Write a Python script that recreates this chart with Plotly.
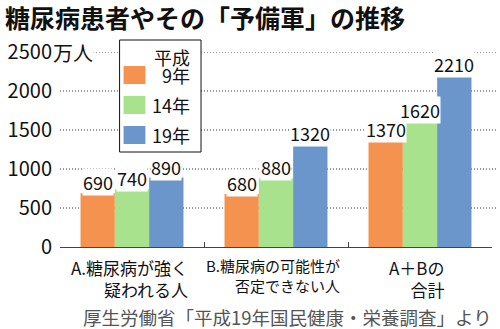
import plotly.graph_objects as go

# Survey categories and values (unit: 10,000 people)
categories = ["A.糖尿病が強く<br>疑われる人", "B.糖尿病の可能性が<br>否定できない人", "A＋Bの<br>合計"]
category_font_sizes = [17, 15, 17]
series_names = ["9年", "14年", "19年"]
heisei9 = [690, 680, 1370]
heisei14 = [740, 880, 1620]
heisei19 = [890, 1320, 2210]
series_values = [heisei9, heisei14, heisei19]
series_colors = ["#F5924F", "#A8E28C", "#6A96CC"]
y_ticks = [0, 500, 1000, 1500, 2000, 2500]
y_unit = "万人"
title_text = "糖尿病患者やその「予備軍」の推移"
legend_title = "平成"
source_text = "厚生労働省「平成19年国民健康・栄養調査」より"

FONT = "Noto Sans CJK JP"
W, H = 500, 329
ML, MR, MT, MB = 57, 8, 52, 82
BARGAP = 0.285


def px(x):
    return (x - ML) / (W - ML - MR)


def py(y):
    return (H - MB - y) / (H - MT - MB)


fig = go.Figure()
xpos = list(range(len(categories)))
for name, vals, col in zip(series_names, series_values, series_colors):
    fig.add_trace(go.Bar(x=xpos, y=vals, name=name, marker=dict(color=col, line=dict(width=0)),
                         showlegend=False))

annotations = []
shapes = []

# dotted horizontal guide lines behind the bars
for t in y_ticks[1:]:
    shapes.append(dict(type="line", xref="paper", yref="y", x0=0, x1=px(497), y0=t, y1=t,
                       line=dict(color="#333", width=1, dash="1px,2px"), layer="below"))

# value labels on top of each bar
n = len(series_values)
bw = (1 - BARGAP) / n
for j, vals in enumerate(series_values):
    for i, v in enumerate(vals):
        annotations.append(dict(x=i + (j - (n - 1) / 2) * bw, y=v, xref="x", yref="y",
                                text=str(v), showarrow=False, yanchor="bottom", yshift=-3,
                                bgcolor="white", borderpad=0,
                                font=dict(family=FONT, size=18, color="#111")))

# category labels under the axis
for i, (c, fs) in enumerate(zip(categories, category_font_sizes)):
    annotations.append(dict(x=i, y=py(254), xref="x", yref="paper", text=c, showarrow=False,
                            xanchor="center", yanchor="top", align="right", xshift=-3,
                            borderpad=0,
                            font=dict(family=FONT, size=fs, color="#111")))

# unit next to the top tick
annotations.append(dict(x=px(49), y=2500, xref="paper", yref="y", text=y_unit, showarrow=False,
                        xanchor="left", yanchor="middle", bgcolor="white", borderpad=0,
                        font=dict(family=FONT, size=20, color="#111")))

# source note
annotations.append(dict(x=px(493), y=py(317), xref="paper", yref="paper", text=source_text,
                        showarrow=False, xanchor="right", yanchor="middle", borderpad=0,
                        font=dict(family=FONT, size=18.5, color="#555")))

# legend box
shapes.append(dict(type="rect", xref="paper", yref="paper", x0=px(117), x1=px(199),
                   y0=py(152), y1=py(40), fillcolor="white", line=dict(color="#111", width=1),
                   layer="above"))
annotations.append(dict(x=px(189), y=py(57), xref="paper", yref="paper", text=legend_title,
                        showarrow=False, xanchor="right", yanchor="middle", borderpad=0,
                        font=dict(family=FONT, size=18, color="#111")))
for k, (name, col) in enumerate(zip(series_names, series_colors)):
    cy = 75 + 30 * k
    shapes.append(dict(type="rect", xref="paper", yref="paper", x0=px(121), x1=px(143),
                       y0=py(cy + 9), y1=py(cy - 9), fillcolor=col, line=dict(width=0),
                       layer="above"))
    annotations.append(dict(x=px(189), y=py(cy), xref="paper", yref="paper", text=name,
                            showarrow=False, xanchor="right", yanchor="middle", borderpad=0,
                            font=dict(family=FONT, size=18, color="#111")))

fig.update_layout(
    width=W, height=H,
    margin=dict(l=ML, r=MR, t=MT, b=MB),
    paper_bgcolor="white", plot_bgcolor="white",
    barmode="group", bargap=BARGAP, bargroupgap=0,
    title=dict(text="<b>" + title_text + "</b>", x=5 / W, xanchor="left",
               y=1 - 19 / H, yanchor="middle",
               font=dict(family=FONT, size=25, color="#111")),
    xaxis=dict(type="linear", range=[-0.5, len(categories) - 0.5], tickvals=[-0.5, 0.5, 1.5, 2.5],
               showticklabels=False, ticks="inside", ticklen=5, tickcolor="#444",
               showline=True, linecolor="#444", linewidth=1, showgrid=False, zeroline=False),
    yaxis=dict(range=[0, 2500], tickmode="array", tickvals=y_ticks,
               ticktext=[str(t) for t in y_ticks], showgrid=False,
               zeroline=False, showline=False, ticks="", ticklabelstandoff=7,
               tickfont=dict(family=FONT, size=20, color="#111")),
    annotations=annotations,
    shapes=shapes,
    showlegend=False,
)

fig.write_html("out.html")
